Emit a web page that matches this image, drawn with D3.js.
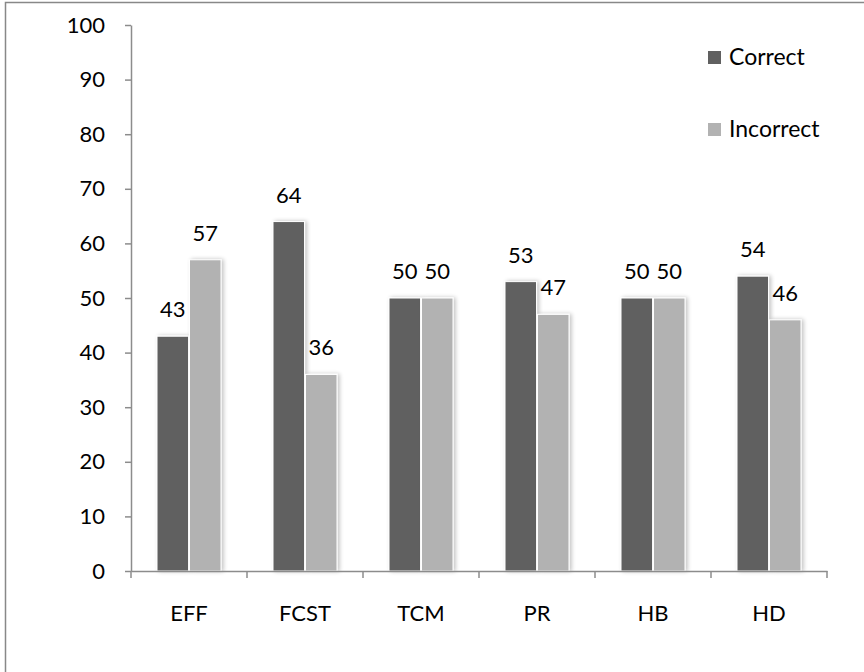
<!DOCTYPE html>
<html>
<head>
<meta charset="utf-8">
<script src="https://cdn.jsdelivr.net/npm/d3@7"></script>
<style>
  html, body { margin: 0; padding: 0; background: #fff; }
  svg { display: block; font-family: Lato, "Open Sans", sans-serif; }
</style>
</head>
<body>
<svg id="chart" width="864" height="672"></svg>
<script>
// Chart data
const categories = ["EFF", "FCST", "TCM", "PR", "HB", "HD"];
const seriesNames = ["Correct", "Incorrect"];
const correctValues = [43, 64, 50, 53, 50, 54];
const incorrectValues = [57, 36, 50, 47, 50, 46];
const yTicks = [0, 10, 20, 30, 40, 50, 60, 70, 80, 90, 100];

const colors = { Correct: "#606060", Incorrect: "#b2b2b2" };
const series = [correctValues, incorrectValues];

const svg = d3.select("#chart");
const W = 864, H = 672;

// Outer frame
svg.append("rect")
  .attr("x", 5.5).attr("y", 2.5)
  .attr("width", W + 10).attr("height", H + 10)
  .attr("fill", "#fff").attr("stroke", "#888").attr("stroke-width", 1.5);

// Soft shadow for bars
const defs = svg.append("defs");
const f = defs.append("filter").attr("id", "shadow")
  .attr("x", "-30%").attr("y", "-10%").attr("width", "160%").attr("height", "120%");
f.append("feGaussianBlur").attr("in", "SourceAlpha").attr("stdDeviation", 2).attr("result", "b");
f.append("feOffset").attr("in", "b").attr("dx", 2).attr("dy", 0).attr("result", "o");
f.append("feComponentTransfer").attr("in", "o").attr("result", "s")
  .append("feFuncA").attr("type", "linear").attr("slope", 0.25);
const m = f.append("feMerge");
m.append("feMergeNode").attr("in", "s");
m.append("feMergeNode").attr("in", "SourceGraphic");

const plot = { left: 131, right: 827, top: 25, bottom: 571 };

const x = d3.scaleBand()
  .domain(categories)
  .range([plot.left, plot.right])
  .paddingInner(0).paddingOuter(0);

const xSub = d3.scaleBand()
  .domain(seriesNames)
  .range([0, 64])
  .paddingInner(0.03);

const y = d3.scaleLinear().domain([0, 100]).range([plot.bottom, plot.top]);

const axisColor = "#8c8c8c";
const fontSize = 22;

// Y axis
const yAxis = svg.append("g")
  .attr("transform", `translate(${plot.left},0)`)
  .call(d3.axisLeft(y).tickValues(yTicks).tickSize(6).tickPadding(20).tickSizeOuter(0));
yAxis.select(".domain").attr("stroke", axisColor).attr("stroke-width", 1.5);
yAxis.selectAll(".tick line").attr("stroke", axisColor).attr("stroke-width", 1.5);
yAxis.selectAll(".tick text").attr("font-size", fontSize).attr("fill", "#000")
  .attr("font-family", "Lato, sans-serif");

// Bars
const groups = svg.append("g").selectAll("g")
  .data(categories)
  .join("g")
  .attr("transform", d => `translate(${x(d) + (x.bandwidth() - 64) / 2},0)`);

groups.selectAll("rect")
  .data((d, i) => seriesNames.map((s, k) => ({ s, v: series[k][i] })))
  .join("rect")
  .attr("x", d => xSub(d.s))
  .attr("y", d => y(d.v))
  .attr("width", xSub.bandwidth())
  .attr("height", d => y(0) - y(d.v))
  .attr("fill", d => colors[d.s])
  .attr("stroke", "#fff").attr("stroke-width", 1)
  .attr("filter", "url(#shadow)");

// Value labels
groups.selectAll("text")
  .data((d, i) => seriesNames.map((s, k) => ({ s, v: series[k][i] })))
  .join("text")
  .attr("x", d => xSub(d.s) + xSub.bandwidth() / 2)
  .attr("y", d => y(d.v) - 19)
  .attr("text-anchor", "middle")
  .attr("font-size", fontSize)
  .attr("fill", "#000")
  .text(d => d.v);

// X axis
const xAxis = svg.append("g")
  .attr("transform", `translate(0,${plot.bottom})`)
  .call(d3.axisBottom(x).tickSize(0).tickPadding(34).tickSizeOuter(0));
xAxis.select(".domain").attr("stroke", axisColor).attr("stroke-width", 1.5);
xAxis.selectAll(".tick text").attr("font-size", fontSize).attr("fill", "#000")
  .attr("font-family", "Lato, sans-serif");
// Boundary ticks between categories
const bounds = categories.map(c => x(c)).concat([plot.right]);
xAxis.selectAll("line.bound")
  .data(bounds)
  .join("line")
  .attr("class", "bound")
  .attr("x1", d => d).attr("x2", d => d)
  .attr("y1", 0).attr("y2", 7)
  .attr("stroke", axisColor).attr("stroke-width", 1.5);

// Legend
const legend = svg.append("g").attr("transform", "translate(708,51)");
const li = legend.selectAll("g")
  .data(seriesNames)
  .join("g")
  .attr("transform", (d, i) => `translate(0,${i * 72})`);
li.append("rect")
  .attr("width", 13).attr("height", 13)
  .attr("fill", d => colors[d]);
li.append("text")
  .attr("x", 21).attr("y", 14)
  .attr("font-size", 23)
  .attr("fill", "#000")
  .text(d => d);
</script>
</body>
</html>
